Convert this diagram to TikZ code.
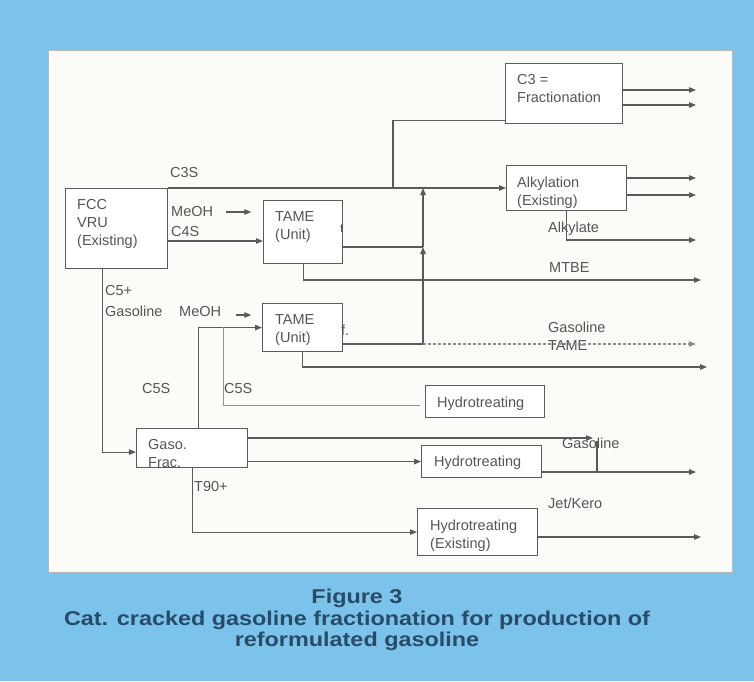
\documentclass[tikz,border=0pt]{standalone}
\usepackage{fontspec}
\setmainfont{Liberation Sans}
\newfontfamily\capfont[FakeStretch=1.17]{Liberation Sans}
\usetikzlibrary{arrows.meta}

\definecolor{skyback}{RGB}{124,195,236}
\definecolor{paper}{RGB}{251,251,248}
\definecolor{linec}{RGB}{90,90,90}
\definecolor{txtc}{RGB}{85,85,85}
\definecolor{capc}{RGB}{40,76,104}
\newcommand{\lbl}{\fontsize{14.5}{18}\selectfont}

\begin{document}
\begin{tikzpicture}[x=1pt,y=-1pt,
    box/.style={draw=linec, fill=white, line width=1.1pt, inner sep=0pt, anchor=north west},
    intext/.style={text=txtc, font=\lbl, inner sep=0pt, align=left, anchor=north west},
    lab/.style={text=txtc, font=\lbl, inner sep=0pt, anchor=west},
    pipe/.style={draw=linec, line width=1.1pt},
    flow/.style={pipe, ->, >={Triangle[length=7pt,width=5.5pt]}},
    caption/.style={text=capc, font=\capfont\bfseries\fontsize{20}{21}\selectfont, inner sep=0pt}]

    % Background and sheet
    \fill[skyback] (0,0) rectangle (754,681);
    \useasboundingbox (0,0) rectangle (754,681);
    \draw[gray!55, fill=paper] (48,50) rectangle (732,572);

    % Units
    \node[box, minimum width=102pt, minimum height=80pt] (fcc) at (65,188) {};
    \node[box, minimum width=79pt, minimum height=63pt] (tamea) at (263,200) {};
    \node[box, minimum width=117pt, minimum height=60pt] (c3f) at (505,63) {};
    \node[box, minimum width=120pt, minimum height=45pt] (alky) at (506,165) {};
    \node[box, minimum width=80pt, minimum height=48pt] (tameb) at (262,303) {};
    \node[box, minimum width=119pt, minimum height=32pt] (hyda) at (425,385) {};
    \node[box, minimum width=111pt, minimum height=39pt] (gaso) at (136,428) {};
    \node[box, minimum width=120pt, minimum height=32pt] (hydb) at (421,445) {};
    \node[box, minimum width=120pt, minimum height=47pt] (hydc) at (417,508) {};

    \node[intext] (fcct) at ([shift={(12pt,-11pt)}]fcc.north west) {FCC\\VRU\\(Existing)};
    \node[intext] (tameat) at ([shift={(12pt,-11pt)}]tamea.north west) {TAME\\(Unit)};
    \node[intext] (c3ft) at ([shift={(12pt,-11pt)}]c3f.north west) {C3 =\\Fractionation};
    \node[intext] (alkyt) at ([shift={(11pt,-12pt)}]alky.north west) {Alkylation\\(Existing)};
    \node[intext] (tamebt) at ([shift={(13pt,-11pt)}]tameb.north west) {TAME\\(Unit)};
    \node[intext] (hydat) at ([shift={(12pt,-12pt)}]hyda.north west) {Hydrotreating};
    \begin{scope}
        \clip (gaso.north west) rectangle (gaso.south east);
        \node[intext] (gasot) at ([shift={(12pt,-11pt)}]gaso.north west) {Gaso.\\Frac.};
    \end{scope}
    \node[intext] (hydbt) at ([shift={(13pt,-11pt)}]hydb.north west) {Hydrotreating};
    \node[intext] (hydct) at ([shift={(13pt,-12pt)}]hydc.north west) {Hydrotreating\\(Existing)};

    % Stream labels
    \node[lab] (c3s) at (170,173) {C3S};
    \node[lab] (meoha) at (171,212) {MeOH};
    \node[lab] (c4s) at (171,232) {C4S};
    \node[lab] (c5p) at (105,290) {C5+};
    \node[lab] (gasl) at (105,311) {Gasoline};
    \node[lab] (meohb) at (179,311) {MeOH};
    \node[lab] (c5sa) at (142,388) {C5S};
    \node[lab] (c5sb) at (224,388) {C5S};
    \node[lab] (t90) at (194,486) {T90+};
    \node[lab] (alkl) at (548,229) {Alkylate};
    \node[lab] (mtbe) at (549,268) {MTBE};
    \node[lab] (gast) at (548,327) {Gasoline};
    \node[lab] (tame) at (548,346) {TAME};
    \node[lab] (gash) at (562,443) {Gasoline};
    \node[lab] (jet) at (548,503) {Jet/Kero};
    \node[lab, font=\fontsize{11}{12}\selectfont] (rfa) at (340,229) {f};
    \node[lab] (rfb) at (341,330) {f.};

    % Junctions and outlets
    \coordinate (outa) at (696,0);
    \coordinate (outb) at (701,0);
    \coordinate (outc) at (707,0);
    \coordinate (c3j) at (393,188);
    \coordinate (vt) at (423,188);
    \coordinate (vm) at (423,247);
    \coordinate (vb) at (423,344);
    \coordinate (c5j) at (223,327);
    \coordinate (gj) at (597,472);
    \coordinate (gtip) at (593,438);

    % Light ends
    \draw[flow] (fcc.north east) -- (fcc.north east -| alky.west);
    \draw[pipe] (c3j) |- ([yshift=4pt]c3f.south west);
    \draw[flow] (c3f.east |- 0,90) -- (outa |- 0,90);
    \draw[flow] (c3f.east |- 0,105) -- (outa |- 0,105);
    \draw[flow] (alky.east |- 0,178) -- (outa |- 0,178);
    \draw[flow] (alky.east |- 0,195) -- (outa |- 0,195);
    \draw[flow] (alky.south) |- (outa |- 0,240);

    % C4 TAME unit
    \draw[flow] (fcc.east |- 0,241) -- (tamea.west |- 0,241);
    \draw[flow] ([xshift=13pt]meoha.east) -- ++(25,0);
    \draw[pipe] (tamea.east |- vm) -- (vm);
    \draw[flow] (vb) -- (vm);
    \draw[flow] (vm) -- (vt);
    \draw[flow] (tamea.south) |- (outb |- 0,280);

    % C5+ gasoline
    \draw[flow] ([xshift=-14pt]fcc.south) |- ([yshift=-4pt]gaso.west);
    \draw[flow] ([shift={(15pt,-4pt)}]meohb.east) -- ++(15,0);
    \draw[flow] ([xshift=6.5pt]gaso.north) |- (tameb.west);
    \draw[pipe, draw=linec!65, line width=0.8pt] (c5j) |- ([shift={(-5pt,-4pt)}]hyda.west);
    \draw[pipe] (tameb.east |- vb) -- (vb);
    \draw[flow, draw=linec!70, densely dashed] (vb) -- (outa |- vb);
    \draw[flow] (tameb.south) |- (outc |- 0,367);

    % Fractionator products
    \draw[flow] (gaso.east |- gtip) -- (gtip);
    \draw[pipe] (gj) -- (gj |- 0,441);
    \draw[flow] (gaso.east |- hydb.west) -- (hydb.west);
    \draw[pipe] (hydb.east |- gj) -- (gj);
    \draw[flow] (gj) -- (outa |- gj);
    \draw[flow] (gaso.south) |- (hydc.west);
    \draw[flow] (hydc.east |- 0,537) -- (outb |- 0,537);

    % Caption
    \node[caption] (figno) at (357,598) {Figure 3};
    \node[caption] (capa) at (357,620) {Cat. cracked gasoline fractionation for production of};
    \node[caption] (capb) at (357,641) {reformulated gasoline};
\end{tikzpicture}
\end{document}
